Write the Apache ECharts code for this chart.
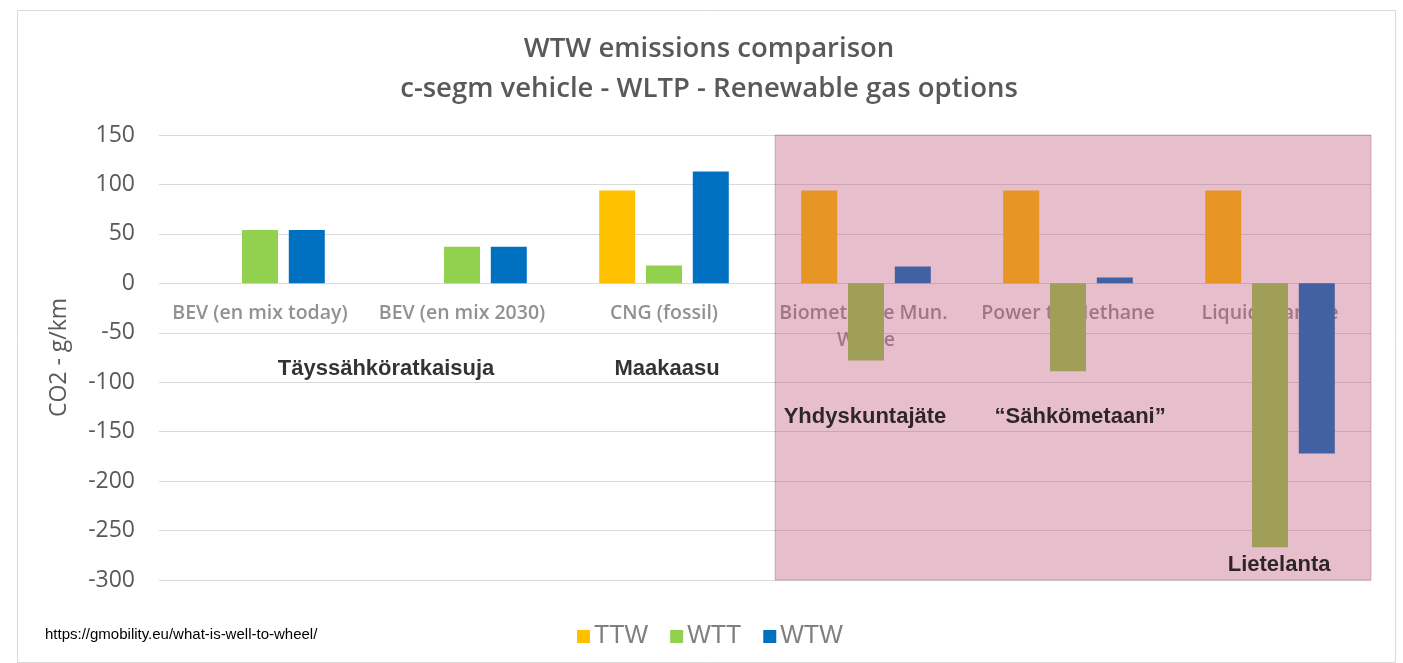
<!DOCTYPE html>
<html>
<head>
<meta charset="utf-8">
<script src="https://cdn.jsdelivr.net/npm/echarts@6/dist/echarts.min.js"></script>
<style>html,body{margin:0;padding:0;background:#fff}#c{width:1403px;height:663px}</style>
</head>
<body>
<div id="c"></div>
<script>
const categories = ['BEV (en mix today)', 'BEV (en mix 2030)', 'CNG (fossil)', 'Biomethane Mun. Waste', 'Power to Methane', 'Liquid Manure'];
const ttw = [0, 0, 94, 94, 94, 94];
const wtt = [54, 37, 18, -78, -89, -267];
const wtw = [54, 37, 113, 17, 6, -172];
const yTicks = { min: -300, max: 150, interval: 50 };
// annotations: [position along category span (0..6), value, text]
const annotations = [
  [1.124, -87, 'Täyssähköratkaisuja'],
  [2.515, -87, 'Maakaasu'],
  [3.495, -135, 'Yhdyskuntajäte'],
  [4.56, -135, '“Sähkömetaani”'],
  [5.545, -285, 'Lietelanta']
];
// highlighted renewable region: [start, end] on the category span, [bottom, top] value
const highlightX = [3.05, 6];
const highlightY = [-300, 150];

const chart = echarts.init(document.getElementById('c'));
const font = 'Open Sans';
chart.setOption({
  animation: false,
  graphic: [{
    type: 'rect', left: 15, top: 8, shape: { width: 1378, height: 652 },
    style: { fill: 'none', stroke: '#D9D9D9', lineWidth: 1 }, silent: true
  }],
  title: [{
    text: 'WTW emissions comparison\nc-segm vehicle - WLTP - Renewable gas options',
    left: 704, top: 24, textAlign: 'center',
    textStyle: { fontFamily: font, fontWeight: 600, fontSize: 27.5, color: '#595959', lineHeight: 40 }
  }, {
    text: 'https://gmobility.eu/what-is-well-to-wheel/',
    left: 40, top: 622,
    textStyle: { fontFamily: 'Liberation Sans', fontWeight: 'normal', fontSize: 15, color: '#000' }
  }],
  legend: {
    data: ['TTW', 'WTT', 'WTW'],
    top: 619, left: 572,
    icon: 'rect', itemWidth: 13, itemHeight: 13, itemGap: 22,
    textStyle: { fontFamily: 'Liberation Sans', fontSize: 25, color: '#7F7F7F', padding: [0, 0, 0, -1] }
  },
  grid: { left: 159, right: 32, top: 135, bottom: 83 },
  xAxis: [{
    type: 'category', data: categories,
    axisLine: { show: false },
    axisTick: { show: false },
    axisLabel: { show: false }
  }, {
    type: 'value', min: 0, max: 6, show: false, axisLine: { onZero: false }
  }],
  yAxis: {
    type: 'value', min: yTicks.min, max: yTicks.max, interval: yTicks.interval,
    name: 'CO2 - g/km', nameLocation: 'middle', nameGap: 88,
    nameTextStyle: { fontFamily: font, fontSize: 23, color: '#595959' },
    axisLabel: { margin: 24, fontFamily: font, fontSize: 23, color: '#595959' },
    splitLine: { lineStyle: { color: '#D9D9D9' } },
    axisLine: { show: false }, axisTick: { show: false }
  },
  series: [
    {
      // category names sit just under the zero line, beneath the bars
      name: 'catLabels', type: 'scatter', xAxisIndex: 0, z: 1, silent: true, clip: false,
      symbolSize: 0, data: categories.map(c => [c, 0]),
      label: {
        show: true, position: 'bottom', distance: 17, formatter: p => p.data[0],
        width: 196, overflow: 'break', align: 'center',
        fontFamily: font, fontWeight: 600, fontSize: 19.5, color: '#767676', lineHeight: 27
      }
    },
    { name: 'TTW', type: 'bar', data: ttw, barWidth: 36, barGap: '30%', itemStyle: { color: '#FFC000' } },
    { name: 'WTT', type: 'bar', data: wtt, barWidth: 36, barGap: '30%', itemStyle: { color: '#92D050' } },
    { name: 'WTW', type: 'bar', data: wtw, barWidth: 36, barGap: '30%', itemStyle: { color: '#0070C0' } },
    {
      name: 'highlight', type: 'scatter', xAxisIndex: 1, data: [], z: 5, clip: false, silent: true,
      markArea: {
        silent: true, z: 5,
        itemStyle: { color: 'rgba(185,70,105,0.35)', borderColor: 'rgba(150,80,100,0.35)', borderWidth: 1 },
        data: [[{ coord: [highlightX[0], highlightY[1]] }, { coord: [highlightX[1], highlightY[0]] }]]
      }
    },
    {
      name: 'notes', type: 'scatter', xAxisIndex: 1, z: 10, clip: false, silent: true,
      symbolSize: 0, data: annotations,
      encode: { x: 0, y: 1 },
      label: {
        show: true, position: 'inside', formatter: p => p.data[2],
        fontFamily: 'Liberation Sans', fontWeight: 'bold', fontSize: 22, color: '#000'
      }
    }
  ]
});
</script>
</body>
</html>
